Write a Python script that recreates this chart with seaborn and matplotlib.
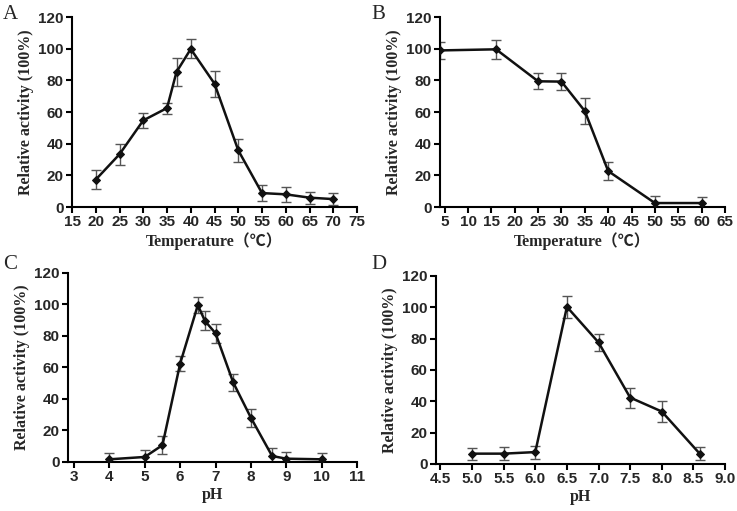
import numpy as np
import pandas as pd
import matplotlib
matplotlib.use("Agg")
import matplotlib.pyplot as plt
import seaborn as sns

# Panel A - optimal temperature
temp_a = [20, 25, 30, 35, 37, 40, 45, 50, 55, 60, 65, 70]
act_a = [17.3, 33.3, 54.7, 62.5, 85.3, 99.8, 77.9, 35.8, 8.8, 8.0, 5.9, 5.0]
err_a = [5.8, 6.7, 4.8, 3.5, 8.8, 6.0, 8.2, 7.4, 5.0, 4.6, 3.7, 3.6]

# Panel B - temperature stability
temp_b = [4, 16, 25, 30, 35, 40, 50, 60]
act_b = [98.9, 99.6, 79.4, 79.2, 60.6, 22.7, 2.5, 2.5]
err_b = [5.3, 6.1, 5.1, 5.3, 8.1, 5.6, 4.2, 3.8]

# Panel C - optimal pH
ph_c = [4, 5, 5.5, 6, 6.5, 6.7, 7, 7.5, 8, 8.6, 9, 10]
act_c = [1.7, 3.2, 10.7, 62.5, 99.6, 89.6, 81.7, 50.5, 28.1, 3.8, 2.1, 1.7]
err_c = [4.3, 4.3, 5.8, 5.0, 5.2, 6.1, 5.9, 5.5, 5.6, 5.4, 4.3, 4.3]

# Panel D - pH stability
ph_d = [5.0, 5.5, 6.0, 6.5, 7.0, 7.5, 8.0, 8.6]
act_d = [6.6, 6.6, 7.6, 100.3, 77.6, 42.4, 33.5, 6.6]
err_d = [3.9, 4.0, 4.2, 7.2, 5.5, 6.4, 6.6, 4.2]

sns.set_style("ticks")
plt.rcParams["font.family"] = ["Liberation Sans", "DejaVu Sans"]

fig = plt.figure(figsize=(7.37, 5.11), dpi=100)

label_font = dict(family=["Liberation Serif", "Noto Sans CJK SC"], fontweight="bold", fontsize=11.5)

# letter anchor = (left px, top px) of the panel letter
panels = [
    ("A", (3, 5), [0.0977, 0.5949, 0.3867, 0.3718], temp_a, act_a, err_a, (15, 75), np.arange(15, 76, 5),
     [str(v) for v in range(15, 76, 5)], "Temperature（℃）"),
    ("B", (371, 5), [0.5970, 0.5949, 0.3867, 0.3718], temp_b, act_b, err_b, (4, 65), np.arange(5, 66, 5),
     [str(v) for v in range(5, 66, 5)], "Temperature（℃）"),
    ("C", (3, 255), [0.0923, 0.0959, 0.3921, 0.3699], ph_c, act_c, err_c, (2.83, 11), np.arange(3, 12, 1),
     [str(v) for v in range(3, 12)], "pH"),
    ("D", (371, 255), [0.5916, 0.0920, 0.3921, 0.3679], ph_d, act_d, err_d, (4.43, 9.0), np.arange(4.5, 9.01, 0.5),
     ["%.1f" % v for v in np.arange(4.5, 9.01, 0.5)], "pH"),
]

for letter, (lx, ly), rect, xs, ys, es, xlim, xticks, xticklabels, xlabel in panels:
    ax = fig.add_axes(rect)
    df = pd.DataFrame({"x": xs, "y": ys})
    ax.errorbar(xs, ys, yerr=es, fmt="none", ecolor="#555555", elinewidth=1.0,
                capsize=3.5, capthick=1.0, zorder=2, clip_on=True)
    sns.lineplot(data=df, x="x", y="y", ax=ax, color="#111111", linewidth=1.8,
                 marker="D", markersize=4, markeredgecolor="#111111", zorder=3,
                 sort=False)
    ax.set_xlim(*xlim)
    ax.set_ylim(0, 120)
    ax.set_yticks(range(0, 121, 20))
    ax.set_xticks(xticks)
    ax.set_xticklabels(xticklabels)
    for lab in ax.get_xticklabels() + ax.get_yticklabels():
        lab.set_fontweight("bold")
        lab.set_fontsize(11)
    ax.set_xlabel(xlabel, labelpad=2, **label_font)
    ax.set_ylabel("Relative activity (100%)", labelpad=3, **label_font)
    sns.despine(ax=ax)
    for s in ["left", "bottom"]:
        ax.spines[s].set_linewidth(1.5)
        ax.spines[s].set_color("black")
    ax.tick_params(width=1.5, length=4, color="black", pad=2)
    fig.text(lx / 737, 1 - ly / 511, letter,
             family="Liberation Serif", fontsize=15, va="top", ha="left")

fig.savefig("out.png", dpi=100)
